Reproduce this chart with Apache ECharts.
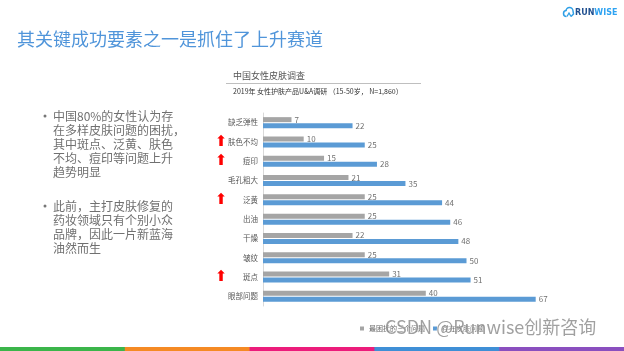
<!DOCTYPE html>
<html><head><meta charset="utf-8">
<script src="https://cdn.jsdelivr.net/npm/echarts@6/dist/echarts.min.js"></script>
<style>html,body{margin:0;padding:0;background:#fff}#c{width:624px;height:351px}</style>
</head><body><div id="c"></div>
<script>
const categories = ['缺乏弹性','肤色不均','痘印','毛孔粗大','泛黄','出油','干燥','皱纹','斑点','眼部问题'];
const arrowRows = ['肤色不均','痘印','泛黄','斑点'];
const topThree = [7,10,15,21,25,25,22,25,31,40];
const hasIssue = [22,25,28,35,44,46,48,50,51,67];
const seriesNames = ['最困扰的三个问题','存在皮肤问题'];
const bullet1 = ['中国80%的女性认为存','在多样皮肤问题的困扰，','其中斑点、泛黄、肤色','不均、痘印等问题上升','趋势明显'];
const bullet2 = ['此前，主打皮肤修复的','药妆领域只有个别小众','品牌，因此一片新蓝海','油然而生'];

const FONT = '"Noto Sans CJK SC", "Noto Sans", sans-serif';
const chart = echarts.init(document.getElementById('c'), null, {renderer:'canvas'});
const stripColors = ['#3bb54a','#f58a24','#ec1c7b','#3f8fd6','#8a4fbf'];
const graphics = [];
stripColors.forEach((c,i)=>{
  graphics.push({type:'rect', shape:{x:i*124.8, y:347, width:125.5, height:4}, style:{fill:c}, silent:true});
});
graphics.push({type:'text', x:17, y:30, style:{text:'其关键成功要素之一是抓住了上升赛道', fontSize:18, fontFamily:FONT, fill:'#5095da'}});
// logo (simple cloud outline)
graphics.push({type:'arc', shape:{cx:566.5, cy:13.5, r:3, startAngle:Math.PI*0.5, endAngle:Math.PI*1.5}, style:{stroke:'#2e9fe6', lineWidth:1.5, fill:null}});
graphics.push({type:'arc', shape:{cx:569.5, cy:11, r:3.5, startAngle:Math.PI*1.0, endAngle:Math.PI*2.0}, style:{stroke:'#2e9fe6', lineWidth:1.5, fill:null}});
graphics.push({type:'polyline', shape:{points:[[573,11],[573.5,14],[571,16.5]]}, style:{stroke:'#2e9fe6', lineWidth:1.5, fill:null}});
graphics.push({type:'polyline', shape:{points:[[567,16.5],[569,13],[571,16.5]]}, style:{stroke:'#2e9fe6', lineWidth:1.3, fill:null}});
graphics.push({type:'text', x:575, y:9, style:{text:'{a|RUN}{b|WISE}', rich:{a:{fontSize:8, fontWeight:'bold', fontFamily:'"DejaVu Sans", sans-serif', fill:'#1f4f8f'}, b:{fontSize:8, fontWeight:'bold', fontFamily:'"DejaVu Sans", sans-serif', fill:'#2ea3f2'}}}});
// chart heading
graphics.push({type:'text', x:233, y:71, style:{text:'中国女性皮肤调查', fontSize:9, fontFamily:FONT, fill:'#555'}});
graphics.push({type:'line', shape:{x1:226, y1:83.5, x2:421, y2:83.5}, style:{stroke:'#bfbfbf', lineWidth:1}});
graphics.push({type:'text', x:233, y:88, style:{text:'2019年 女性护肤产品U&A调研 （15-50岁， N=1,860）', fontSize:7, fontFamily:FONT, fill:'#333'}});
// bullets
function addBullet(lines, top){
  graphics.push({type:'circle', shape:{cx:45, cy:top+7, r:1.5}, style:{fill:'#777'}});
  graphics.push({type:'text', x:53, y:top, style:{text:lines.join('\n'), fontSize:12, fontFamily:FONT, fill:'#707070', lineHeight:14}});
}
addBullet(bullet1, 109);
addBullet(bullet2, 199);
// watermark
graphics.push({type:'text', x:385, y:318, z:100, style:{text:'CSDN @Runwise创新咨询', fontSize:18, fontFamily:FONT, fill:'rgba(120,120,120,0.7)', stroke:'rgba(255,255,255,0.6)', lineWidth:1}});

const option = {
  animation:false,
  backgroundColor:'#fff',
  textStyle:{fontFamily:FONT},
  grid:{left:263, top:113, width:325.6, height:193},
  legend:{data:seriesNames, left:355, top:320, itemWidth:4, itemHeight:4, itemGap:8, icon:'rect',
    textStyle:{fontSize:7, color:'#666', fontFamily:FONT}},
  xAxis:{type:'value', min:0, max:80, show:false, splitLine:{show:false}},
  yAxis:{type:'category', data:categories, inverse:true,
    axisLine:{lineStyle:{color:'#d9d9d9'}}, axisTick:{show:false},
    axisLabel:{margin:5, fontSize:7.5, color:'#595959', fontFamily:FONT,
      formatter:function(v){ return (arrowRows.indexOf(v)>=0 ? '{a|⬆}' : '') + '{n|'+v+'}'; },
      rich:{a:{width:10, align:'center', fontSize:15, color:'#ff0000', fontFamily:'"DejaVu Sans", sans-serif'},
            n:{width:32, align:'right', fontSize:7.5, color:'#595959', fontFamily:FONT}}}
  },
  series:[
    {name:seriesNames[0], type:'bar', data:topThree, barWidth:5, barGap:'20%', itemStyle:{color:'#a5a5a5'},
     label:{show:true, position:'right', distance:3, fontSize:8, color:'#707070', fontFamily:FONT}},
    {name:seriesNames[1], type:'bar', data:hasIssue, barWidth:5, barGap:'20%', itemStyle:{color:'#5b9bd5'},
     label:{show:true, position:'right', distance:3, fontSize:8, color:'#707070', fontFamily:FONT}}
  ],
  graphic:graphics
};
chart.setOption(option);
</script></body></html>
